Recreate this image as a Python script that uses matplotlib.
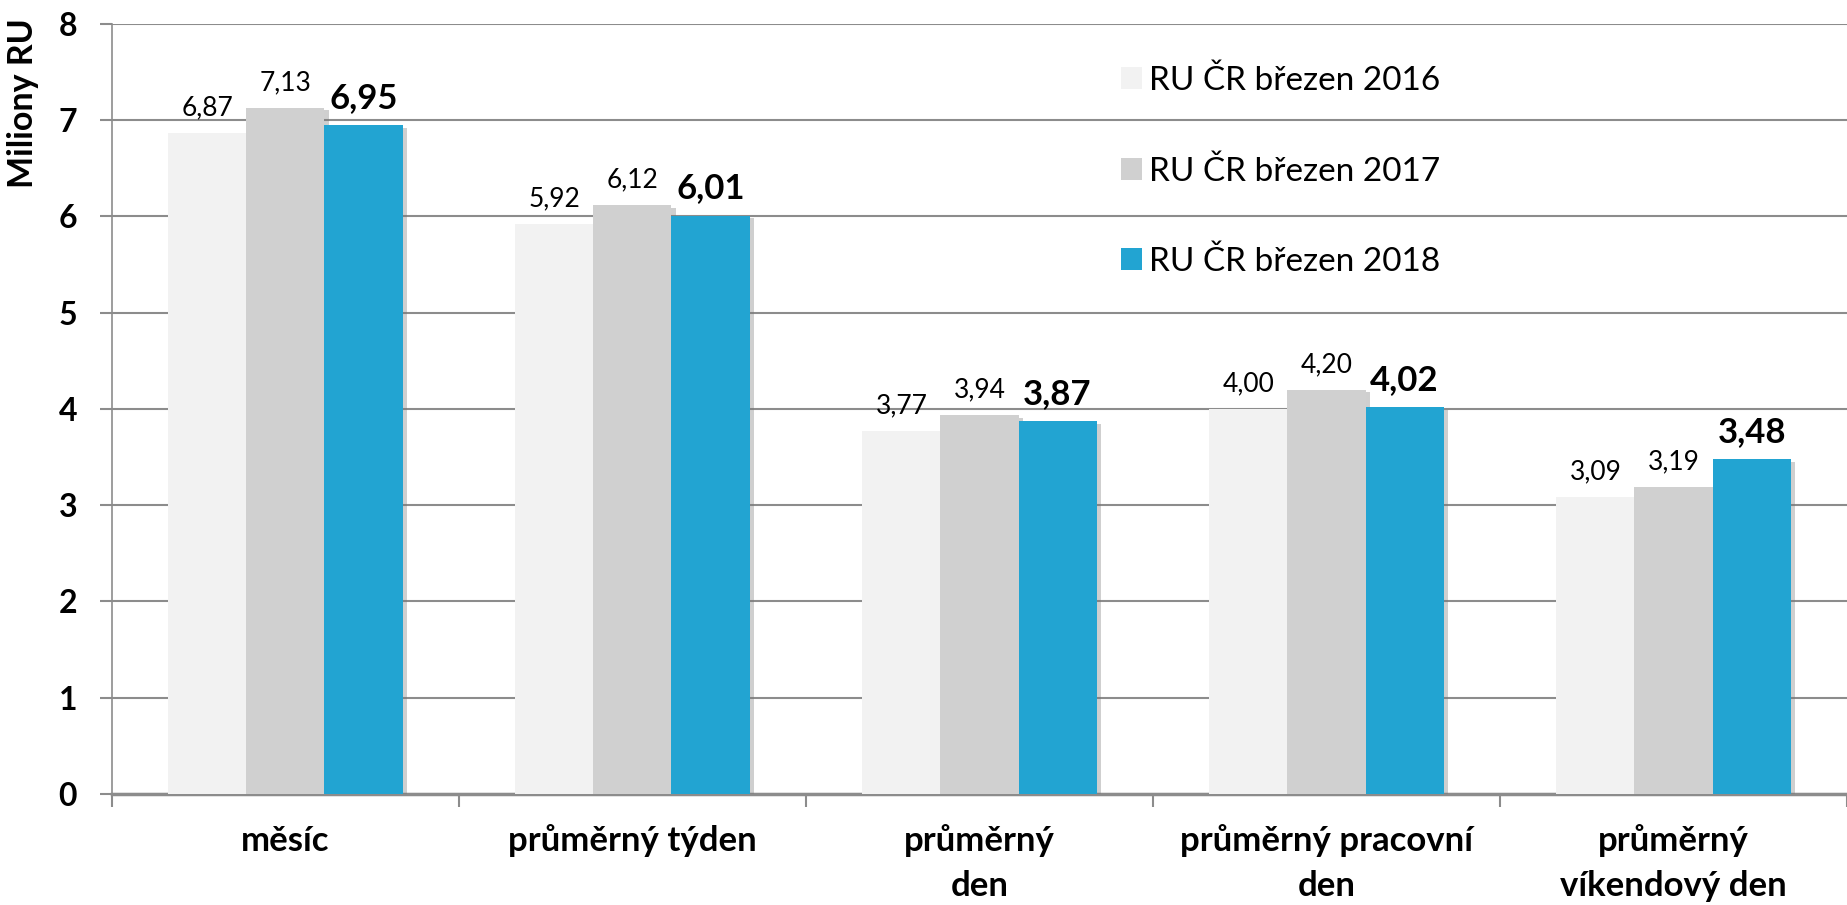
import matplotlib
matplotlib.use("Agg")
import matplotlib.pyplot as plt
import matplotlib.patheffects as pe
from matplotlib.patches import Patch
import numpy as np

categories = ["měsíc", "průměrný týden", "průměrný\nden", "průměrný pracovní\nden", "průměrný\nvíkendový den"]
series_names = ["RU ČR březen 2016", "RU ČR březen 2017", "RU ČR březen 2018"]
v2016 = [6.87, 5.92, 3.77, 4.00, 3.09]
v2017 = [7.13, 6.12, 3.94, 4.20, 3.19]
v2018 = [6.95, 6.01, 3.87, 4.02, 3.48]
colors = ["#F2F2F2", "#D0D0D0", "#22A4D2"]
yticks = [0, 1, 2, 3, 4, 5, 6, 7, 8]

plt.rcParams['font.family'] = ['Lato', 'DejaVu Sans']

fig = plt.figure(figsize=(18.47, 9.05), dpi=100)
ax = fig.add_axes([0.0606, 0.1227, 0.9394, 0.8508])

x = np.arange(len(categories))
w = 0.225
grid_c = "#8C8C8C"
shadow = [pe.SimplePatchShadow(offset=(3, -2), shadow_rgbFace="#777777", alpha=0.35), pe.Normal()]

all_vals = [v2016, v2017, v2018]
for i, (vals, c) in enumerate(zip(all_vals, colors)):
    bars = ax.bar(x + (i - 1) * w, vals, width=w, color=c, edgecolor="none", zorder=3,
                  label=series_names[i])
    for b in bars:
        b.set_path_effects(shadow)
    labels = [f"{v:.2f}".replace(".", ",") for v in vals]
    if i == 2:
        ax.bar_label(bars, labels=labels, padding=8, fontsize=25, fontweight="bold", color="black")
    else:
        ax.bar_label(bars, labels=labels, padding=9, fontsize=19, color="black")

ax.set_ylim(0, 8)
ax.set_xlim(-0.5, len(categories) - 0.5)
ax.set_yticks(yticks)
ax.set_yticklabels([str(t) for t in yticks], fontsize=23, fontweight="bold")
ax.set_xticks(x)
ax.set_xticklabels(categories, fontsize=25, fontweight="bold", linespacing=1.5)
ax.tick_params(axis="x", which="major", length=0, pad=22)
ax.set_xticks(np.arange(-0.5, len(categories) - 0.4, 1.0), minor=True)
ax.tick_params(axis="x", which="minor", length=9, width=1.5, color=grid_c)
ax.tick_params(axis="y", length=9, width=1.5, color=grid_c, pad=16)

ax.yaxis.grid(True, color=grid_c, linewidth=1.5, zorder=0)
ax.set_axisbelow(True)
for s in ["top", "right"]:
    ax.spines[s].set_visible(False)
ax.spines["left"].set_color(grid_c)
ax.spines["left"].set_linewidth(1.2)
ax.spines["bottom"].set_color(grid_c)
ax.spines["bottom"].set_linewidth(2.5)

ax.set_ylabel("Miliony RU", fontsize=24.5, fontweight="bold")
ax.yaxis.set_label_coords(-0.042, 0.897)

handles = [Patch(facecolor=c, edgecolor="none") for c in colors]
ax.legend(handles, series_names, loc="upper left", bbox_to_anchor=(0.564, 0.985),
          frameon=False, fontsize=24, labelspacing=1.8, handlelength=0.65,
          handleheight=0.65, handletextpad=0.2)

fig.savefig("out.png", dpi=100)
